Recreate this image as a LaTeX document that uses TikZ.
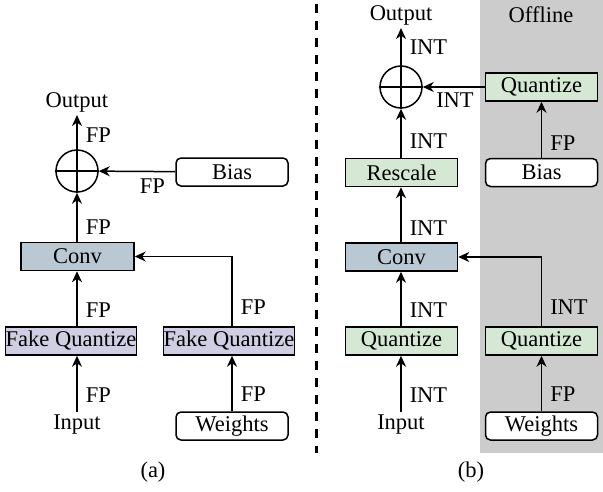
\documentclass[tikz,border=0pt]{standalone}
\usepackage{fontspec}
\setmainfont{Liberation Serif}
\usetikzlibrary{arrows.meta}
\definecolor{lav}{HTML}{D0CEE2}
\definecolor{convc}{HTML}{BAC8D3}
\definecolor{grn}{HTML}{D5E8D4}
\definecolor{offg}{HTML}{CCCCCC}
\tikzset{
  every node/.style={font=\fontsize{22.5}{26}\selectfont},
  box/.style={draw, line width=1.5pt, minimum height=28pt, inner sep=0pt, minimum width=112pt},
  fqbox/.style={box, fill=lav, minimum width=130pt},
  convbox/.style={box, fill=convc},
  qbox/.style={box, fill=grn},
  rbox/.style={box, fill=white, rounded corners=5pt},
  txt/.style={inner sep=3pt},
  plusc/.style={draw, circle, line width=1.5pt, minimum size=42pt, inner sep=0pt},
  arr/.style={line width=1.5pt, -{Stealth[length=11pt,width=10pt,inset=3.5pt]}},
  lab/.style={anchor=west, inner sep=0pt, xshift=8pt},
  labb/.style={anchor=north, inner sep=0pt}
}
\begin{document}
\begin{tikzpicture}[x=1pt,y=-1pt]
\useasboundingbox (0,0) rectangle (603,491);
% offline background
\fill[offg] (480,0) rectangle (603,453);
% dashed separator
\draw[line width=3pt, dash pattern=on 9pt off 8pt] (316,4) -- (316,453);

% ---------- (a) ----------
\node[txt] (out1) at (77,102) {Output};
\node[plusc] (plus1) at (77,171) {};
\draw[line width=1.5pt] (plus1.north) -- (plus1.south) (plus1.west) -- (plus1.east);
\node[rbox] (bias1) at (232,172) {Bias};
\node[convbox, minimum width=113pt] (conv1) at (77.5,256.5) {Conv};
\node[fqbox] (fq1) at (71,341) {Fake Quantize};
\node[fqbox] (fq2) at (229,341) {Fake Quantize};
\node[txt] (in1) at (77,425) {Input};
\node[rbox] (w1) at (232,426) {Weights};
\node[txt] (capa) at (153,472) {(a)};

\draw[arr] (in1) -- node[lab,pos=0.3]{FP} (in1 |- fq1.south);
\draw[arr] (fq1.north -| in1) -- node[lab,pos=0.3]{FP} (conv1.south -| in1);
\draw[arr] (conv1.north -| in1) -- node[lab,pos=0.3]{FP} (plus1);
\draw[arr] (plus1) -- node[lab,pos=0.42]{FP} (out1);
\draw[arr] (bias1) -- node[labb,pos=0.3,yshift=-7pt]{FP} (plus1);
\draw[arr] (w1) -- node[lab,pos=0.3]{FP} (fq2.south -| w1);
\draw[arr] (fq2.north -| w1) -- node[lab,pos=0.28]{FP} (w1 |- conv1) -- (conv1.east);

% ---------- (b) ----------
\node[txt] (out2) at (401,15) {Output};
\node[txt] (off) at (541,15) {Offline};
\node[plusc] (plus2) at (401,87) {};
\draw[line width=1.5pt] (plus2.north) -- (plus2.south) (plus2.west) -- (plus2.east);
\node[qbox] (qb) at (541.5,87) {Quantize};
\node[rbox] (bias2) at (541.5,172.5) {Bias};
\node[qbox] (resc) at (401.5,172.5) {Rescale};
\node[convbox] (conv2) at (401.5,257) {Conv};
\node[qbox] (q1) at (401.5,341) {Quantize};
\node[qbox] (q2) at (541.5,341) {Quantize};
\node[txt] (in2) at (401,425) {Input};
\node[rbox] (w2) at (541.5,426) {Weights};
\node[txt] (capb) at (471,472) {(b)};

\draw[arr] (in2) -- node[lab,pos=0.3]{INT} (in2 |- q1.south);
\draw[arr] (q1.north -| in2) -- node[lab,pos=0.29]{INT} (conv2.south -| in2);
\draw[arr] (conv2.north -| in2) -- node[lab,pos=0.26]{INT} (resc.south -| in2);
\draw[arr] (resc.north -| in2) -- node[lab,pos=0.34]{INT} (plus2);
\draw[arr] (plus2) -- node[lab,pos=0.5]{INT} (out2);
\draw[arr] (qb) -- node[labb,pos=0.48,yshift=-5pt]{INT} (plus2);
\draw[arr] (bias2) -- node[lab,pos=0.26]{FP} (qb);
\draw[arr] (w2) -- node[lab,pos=0.3]{FP} (q2);
\draw[arr] (q2) -- node[lab,pos=0.28]{INT} (q2 |- conv2) -- (conv2.east);
\end{tikzpicture}
\end{document}
